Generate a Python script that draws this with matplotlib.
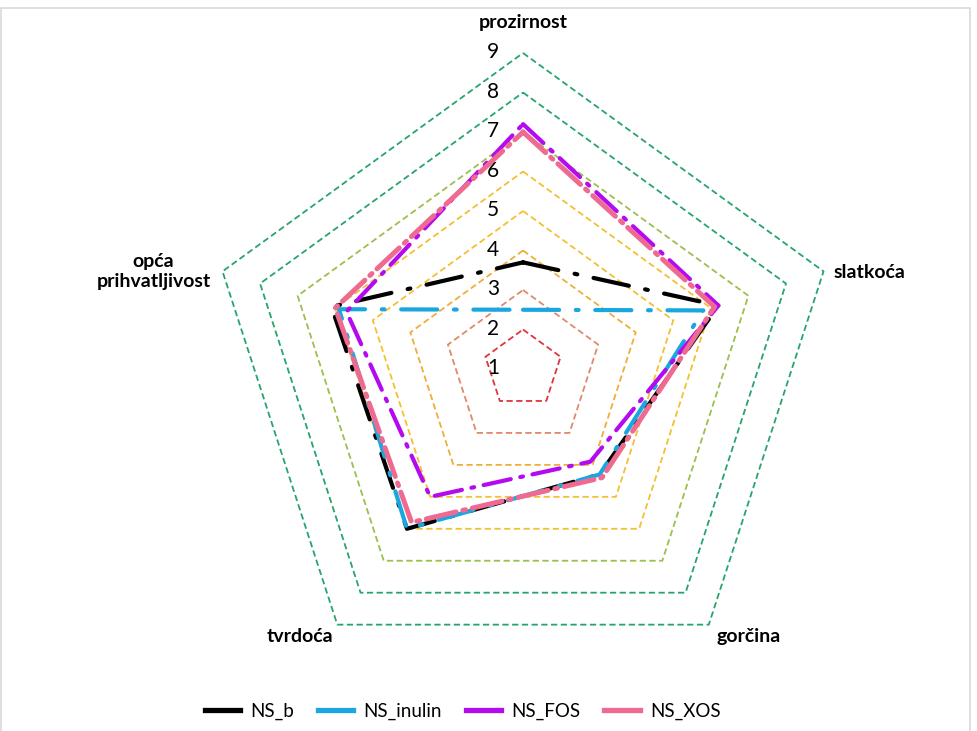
import numpy as np
import matplotlib
matplotlib.use("Agg")
import matplotlib.pyplot as plt
from matplotlib.lines import Line2D
from matplotlib.patches import Rectangle

plt.rcParams['font.family'] = ['Lato', 'DejaVu Sans']
plt.rcParams['lines.scale_dashes'] = False

# osi (u smjeru kazaljke)
categories = ['prozirnost', 'slatkoća', 'gorčina', 'tvrdoća', 'opća\nprihvatljivost']
series_names = ['NS_b', 'NS_inulin', 'NS_FOS', 'NS_XOS']
ns_b = [3.7, 6.2, 4.3, 6.0, 6.1]
ns_inulin = [2.5, 5.8, 4.3, 6.0, 5.9]
ns_fos = [7.2, 6.2, 3.9, 5.0, 5.7]
ns_xos = [7.0, 6.1, 4.4, 5.8, 6.0]
levels = [1, 2, 3, 4, 5, 6, 7, 8, 9]

colors = ['#000000', '#1AA7E0', '#B40AF0', '#EF6A90']
widths = [3.0, 3.0, 3.0, 3.6]
dashes = [(26, 12, 2, 12), (26, 12, 2, 12), (20, 7, 2, 7), (22, 5, 2, 5)]
grid_colors = {2: '#E0343C', 3: '#E0896A', 4: '#EFAE38', 5: '#F3C032',
               6: '#F3C032', 7: '#9CBF4E', 8: '#27A46B', 9: '#27A46B'}

fig = plt.figure(figsize=(9.78, 7.31), dpi=100)
ax = fig.add_axes([0.2117, 0.0629, 0.6462, 0.8646], projection='polar')
ax.set_theta_offset(np.pi / 2)
ax.set_theta_direction(-1)
ax.set_rlim(1, 9)
ax.grid(False)
ax.spines['polar'].set_visible(False)
ax.set_xticks([])
ax.set_yticks([])
ax.patch.set_alpha(0)

n = len(categories)
angles = np.arange(n) * 2 * np.pi / n
closed = np.append(angles, angles[0])

# mreža (peterokuti)
for lvl in levels[1:]:
    ax.plot(closed, [lvl] * (n + 1), color=grid_colors[lvl], lw=1.3,
            dashes=(4.5, 2.5), clip_on=False, zorder=1)

# brojevi na osi
for lvl in levels:
    ax.annotate(str(lvl), xy=(0, lvl), xytext=(-30, 1), textcoords='offset pixels',
                ha='center', va='center', fontsize=15, annotation_clip=False)

# nazivi osi
offsets = [(0, 31, 'center'), (10, -1, 'left'), (8, -12, 'left'), (-4, -12, 'right'), (-12, 0, 'right')]
for ang, cat, (dx, dy, ha) in zip(angles, categories, offsets):
    ax.annotate(cat, xy=(ang, 9), xytext=(dx, dy), textcoords='offset pixels',
                ha=ha, va='center', fontsize=14, fontweight='bold',
                multialignment='center', annotation_clip=False)

data = [ns_b, ns_inulin, ns_fos, ns_xos]
for vals, c, w, d in zip(data, colors, widths, dashes):
    ax.plot(closed, vals + vals[:1], color=c, lw=w, dashes=d,
            solid_capstyle='round', dash_capstyle='round', zorder=3)

handles = [Line2D([], [], color=c, lw=3.8) for c in colors]
fig.legend(handles, series_names, loc='center', bbox_to_anchor=(0.473, 0.027),
           ncol=4, frameon=False, fontsize=13.5, handlelength=1.9,
           handletextpad=0.55, columnspacing=1.25)

fig.patches.append(Rectangle((0.001, -0.01), 0.991, 0.999, transform=fig.transFigure,
                             fill=False, edgecolor='#d9d9d9', lw=1.2))

fig.savefig('out.png', dpi=100)
